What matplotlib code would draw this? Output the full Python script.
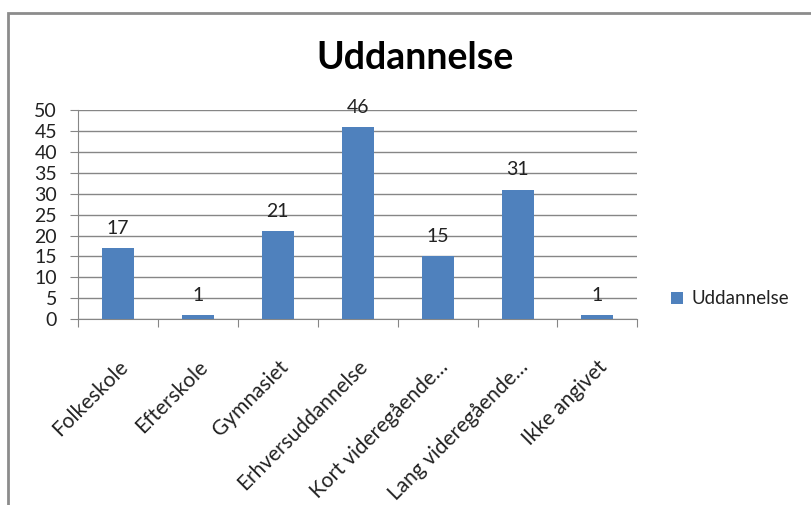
import matplotlib.pyplot as plt
import matplotlib.patches as patches
import numpy as np

categories = ['Folkeskole', 'Efterskole', 'Gymnasiet', 'Erhversuddannelse',
              'Kort videregående…', 'Lang videregående…', 'Ikke angivet']
values = [17, 1, 21, 46, 15, 31, 1]
series_name = 'Uddannelse'
yticks = [0, 5, 10, 15, 20, 25, 30, 35, 40, 45, 50]

plt.rcParams['font.family'] = ['Lato', 'DejaVu Sans']

bar_color = '#4f81bd'
grid_color = '#868686'
text_color = '#222222'

fig = plt.figure(figsize=(8.12, 5.05), dpi=100)
ax = fig.add_axes([0.096, 0.368, 0.689, 0.414])

x = np.arange(len(categories))
ax.bar(x, values, width=0.4, color=bar_color, label=series_name, zorder=3)

for xi, v in zip(x, values):
    ax.annotate(str(v), xy=(xi, v), xytext=(0, 8), textcoords='offset points',
                ha='center', va='bottom', fontsize=14, color=text_color)

ax.set_xlim(-0.5, len(categories) - 0.5)
ax.set_ylim(0, 50)
ax.set_yticks(yticks)
ax.set_yticklabels([str(t) for t in yticks], fontsize=14, color=text_color)
ax.yaxis.grid(True, color=grid_color, linewidth=1, zorder=0)

# category boundaries carry the tick marks, labels sit at the centres
ax.set_xticks(np.arange(len(categories) + 1) - 0.5, minor=False)
ax.set_xticklabels([])
ax.set_xticks(x, minor=True)
ax.set_xticklabels(categories, minor=True, rotation=45, ha='right',
                   rotation_mode='anchor', fontsize=15, color=text_color)
ax.tick_params(axis='x', which='major', length=6, color=grid_color)
ax.tick_params(axis='x', which='minor', length=0, pad=27)
ax.tick_params(axis='y', length=6, color=grid_color, pad=9)

for s in ['top', 'right']:
    ax.spines[s].set_visible(False)
for s in ['left', 'bottom']:
    ax.spines[s].set_color(grid_color)

fig.text(0.511, 0.885, 'Uddannelse', ha='center', va='center',
         fontsize=27, fontweight='bold')

handles, labels = ax.get_legend_handles_labels()
fig.legend(handles, labels, loc='center left', bbox_to_anchor=(0.806, 0.408),
           frameon=False, fontsize=13.5, handlelength=0.6, handleheight=0.6,
           handletextpad=0.5, labelcolor=text_color)

fig.patches.append(patches.Rectangle((8 / 812, -0.1), 1.2, 1 - 13 / 505 + 0.1,
                                     transform=fig.transFigure, fill=False,
                                     edgecolor='#8c8c8c', linewidth=2))

fig.savefig('out.png', dpi=100)
